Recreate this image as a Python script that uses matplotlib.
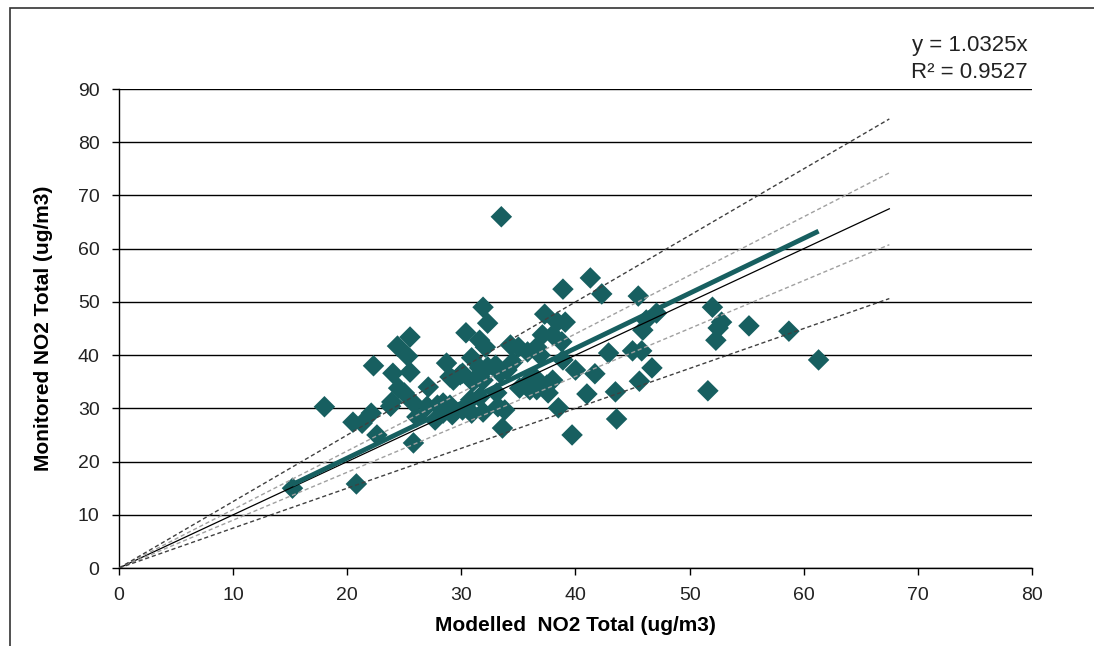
import numpy as np
import matplotlib.pyplot as plt
from matplotlib.patches import Rectangle

plt.rcParams['font.family'] = ['Liberation Sans', 'DejaVu Sans']

# Modelled vs monitored NO2 (ug/m3)
modelled = np.array([
    15.2, 18.0, 20.8, 20.5, 21.3, 22.1, 22.3, 22.6, 24.4, 25.5,
    25.3, 24.0, 25.5, 24.5, 25.0, 23.9, 23.8, 25.8, 26.1, 27.1,
    27.0, 25.8, 27.7, 27.9, 28.4, 29.0, 28.4, 29.2, 30.1, 30.9,
    28.7, 29.0, 29.3, 29.9, 30.9, 31.9, 32.3, 30.4, 31.6, 32.1,
    33.5, 34.3, 35.0, 35.8, 36.6, 36.9, 37.3, 37.1, 38.0, 38.8,
    38.4, 39.1, 38.9, 41.3, 42.3, 45.5, 38.9, 34.5, 30.1, 31.4,
    32.3, 31.6, 33.0, 33.4, 34.0, 31.0, 31.9, 35.1, 36.0, 36.0,
    36.6, 37.6, 37.5, 38.0, 36.5, 33.1, 33.8, 33.2, 31.9, 30.8,
    31.6, 33.6, 40.0, 41.7, 41.0, 43.5, 38.5, 43.6, 39.7, 42.9,
    45.0, 45.8, 46.7, 45.6, 45.9, 47.1, 46.2, 52.0, 52.8, 52.5,
    52.3, 55.2, 58.7, 61.3, 51.6,
])
monitored = np.array([
    15.0, 30.3, 15.8, 27.4, 27.2, 29.1, 38.0, 25.0, 41.7, 43.4,
    39.8, 36.6, 36.8, 33.8, 32.9, 31.2, 30.4, 31.0, 28.4, 34.0,
    30.4, 23.5, 27.8, 30.6, 31.0, 30.6, 29.1, 28.8, 29.7, 29.1,
    38.5, 35.9, 35.3, 36.3, 39.5, 49.0, 46.0, 44.2, 42.8, 41.5,
    66.0, 41.9, 41.5, 40.6, 41.5, 40.0, 47.7, 43.8, 43.8, 42.5,
    46.2, 46.2, 52.4, 54.5, 51.5, 51.1, 39.1, 38.7, 36.6, 35.9,
    37.8, 37.6, 38.1, 36.6, 37.2, 35.0, 35.3, 33.8, 35.3, 33.5,
    33.5, 32.9, 34.4, 35.3, 35.7, 32.9, 29.7, 30.3, 29.3, 31.6,
    32.1, 26.3, 37.2, 36.5, 32.7, 33.1, 30.1, 28.0, 25.0, 40.4,
    40.8, 40.8, 37.6, 35.1, 44.7, 47.9, 46.6, 49.0, 46.2, 45.1,
    42.8, 45.5, 44.5, 39.1, 33.3,
])

slope = 1.0325
r2 = 0.9527
line_end = 67.5

teal = '#175f60'

fig = plt.figure(figsize=(10.94, 6.46), dpi=100)
ax = fig.add_axes([0.1088, 0.1207, 0.8345, 0.7415])

# outer chart border (cropped on right and bottom)
fig.patches.append(Rectangle((10 / 1094, -0.1), 1.2, 0.1 + (1 - 8 / 646),
                             transform=fig.transFigure, fill=False,
                             edgecolor='#333333', linewidth=1.2))

ax.set_xlim(0, 80)
ax.set_ylim(0, 90)
ax.set_xticks(range(0, 81, 10))
ax.set_yticks(range(0, 91, 10))
ax.yaxis.grid(True, color='black', linewidth=1.0)
ax.set_axisbelow(True)
for s in ['top', 'right']:
    ax.spines[s].set_visible(False)
for s in ['left', 'bottom']:
    ax.spines[s].set_color('black')
    ax.spines[s].set_linewidth(1.0)
ax.tick_params(direction='out', length=5, width=1, labelsize=14,
               labelcolor='#222222')
ax.tick_params(axis='x', pad=9)
ax.tick_params(axis='y', pad=9)

ax.scatter(modelled, monitored, marker='D', s=120, color=teal,
           edgecolors='none', zorder=3)

xr = np.array([0, line_end])
ax.plot(xr, xr, color='black', lw=0.9, zorder=4)
ax.plot(xr, 1.1 * xr, color='#a0a0a0', lw=1.0, ls=(0, (3, 2)), zorder=4)
ax.plot(xr, 0.9 * xr, color='#a0a0a0', lw=1.0, ls=(0, (3, 2)), zorder=4)
ax.plot(xr, 1.25 * xr, color='#404040', lw=1.0, ls=(0, (3, 2)), zorder=4)
ax.plot(xr, 0.75 * xr, color='#404040', lw=1.0, ls=(0, (3, 2)), zorder=4)

xt = np.array([modelled.min(), modelled.max()])
ax.plot(xt, slope * xt, color=teal, lw=3.5, solid_capstyle='butt', zorder=5)

ax.set_xlabel('Modelled  NO2 Total (ug/m3)', fontsize=15, fontweight='bold',
              labelpad=8)
ax.set_ylabel('Monitored NO2 Total (ug/m3)', fontsize=15, fontweight='bold',
              labelpad=18)

fig.text(1028 / 1094, 1 - 45 / 646, f'y = {slope}x', ha='right', va='center',
         fontsize=16, color='#222222')
fig.text(1028 / 1094, 1 - 72 / 646, f'R² = {r2}', ha='right', va='center',
         fontsize=16, color='#222222')

fig.savefig('out.png', dpi=100)
